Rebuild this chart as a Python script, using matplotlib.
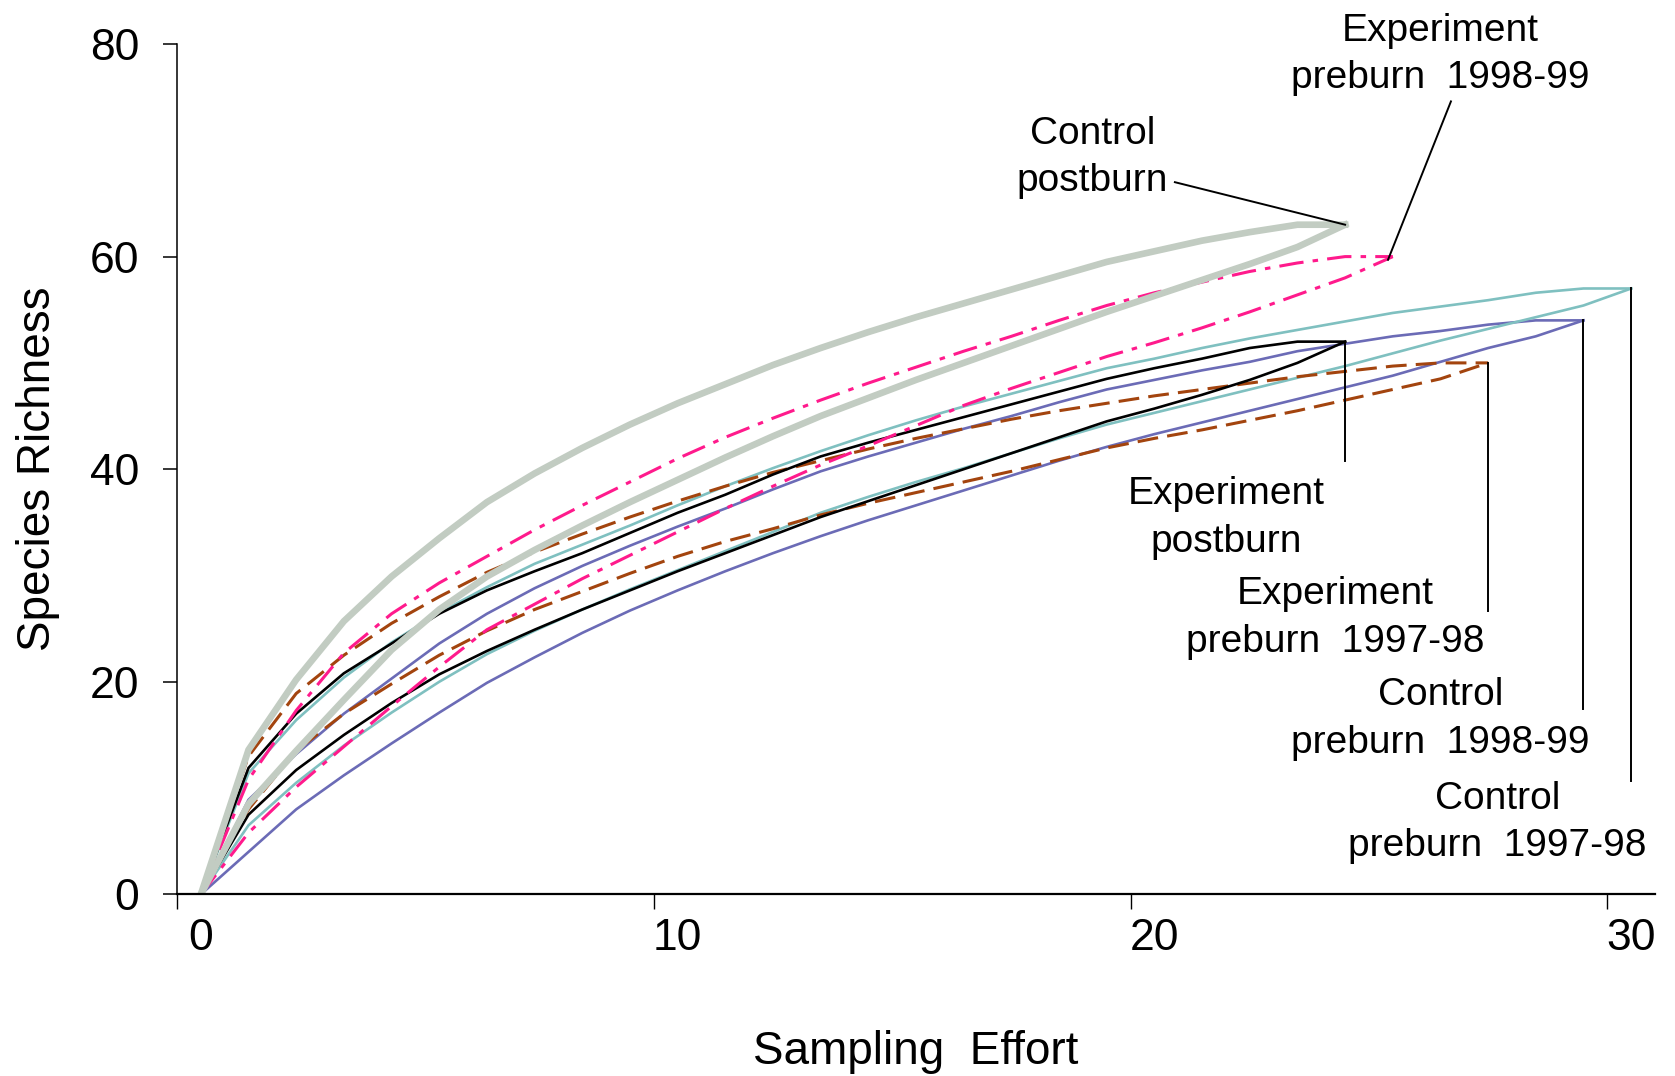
import matplotlib
matplotlib.use("Agg")
import matplotlib.pyplot as plt

plt.rcParams["font.family"] = ["Liberation Sans", "DejaVu Sans"]

# ---- species accumulation data (species richness per sampling effort step) ----
ctrl_post_upper = [0, 13.6, 20.2, 25.7, 29.9, 33.5, 36.9, 39.6, 42.0, 44.2, 46.2, 48.0, 49.8,
                   51.4, 52.9, 54.3, 55.6, 56.9, 58.2, 59.5, 60.5, 61.5, 62.3, 63.0, 63.0]
ctrl_post_lower = [0, 8.5, 13.5, 18.3, 23.0, 26.8, 29.9, 32.4, 34.7, 36.9, 39.0, 41.1, 43.1,
                   45.0, 46.7, 48.4, 50.0, 51.6, 53.2, 54.8, 56.3, 57.8, 59.3, 60.9, 63.0]

exp_pre98_upper = [0, 10.8, 17.3, 22.7, 26.4, 29.3, 31.8, 34.3, 36.6, 38.8, 41.0, 43.0, 44.8,
                   46.5, 48.1, 49.6, 51.1, 52.5, 54.0, 55.4, 56.6, 57.6, 58.6, 59.4, 60.0, 60.0]
exp_pre98_lower = [0, 5.8, 10.1, 13.9, 17.7, 21.4, 24.9, 27.3, 29.7, 31.9, 34.1, 36.3, 38.4,
                   40.4, 42.2, 44.1, 46.0, 47.6, 49.1, 50.6, 51.9, 53.3, 54.8, 56.4, 58.0, 60.0]

ctrl_pre97_upper = [0, 11.4, 16.4, 20.4, 23.7, 26.5, 28.9, 31.1, 32.9, 34.7, 36.6, 38.4, 40.1,
                    41.7, 43.2, 44.6, 45.9, 47.1, 48.3, 49.5, 50.4, 51.4, 52.3, 53.1, 53.9,
                    54.7, 55.3, 55.9, 56.6, 57.0, 57.0]
ctrl_pre97_lower = [0, 6.5, 10.5, 14.0, 17.1, 20.0, 22.6, 24.8, 26.8, 28.7, 30.5, 32.3, 34.1,
                    35.9, 37.4, 38.8, 40.1, 41.5, 42.9, 44.2, 45.3, 46.4, 47.5, 48.6, 49.7,
                    50.9, 52.1, 53.2, 54.3, 55.4, 57.0]

ctrl_pre98_upper = [0, 8.9, 13.2, 17.0, 20.3, 23.6, 26.4, 28.8, 30.9, 32.8, 34.6, 36.3, 38.1,
                    39.8, 41.2, 42.5, 43.8, 45.0, 46.3, 47.5, 48.4, 49.3, 50.1, 51.1, 51.8,
                    52.5, 53.0, 53.6, 54.0, 54.0]
ctrl_pre98_lower = [0, 4.0, 8.0, 11.2, 14.2, 17.1, 19.9, 22.3, 24.6, 26.7, 28.6, 30.4, 32.1,
                    33.7, 35.2, 36.6, 38.0, 39.4, 40.8, 42.1, 43.3, 44.4, 45.5, 46.6, 47.7,
                    48.8, 50.1, 51.4, 52.5, 54.0]

exp_post_upper = [0, 11.9, 17.0, 20.8, 23.6, 26.4, 28.6, 30.4, 32.1, 34.0, 35.9, 37.6, 39.5,
                  41.2, 42.5, 43.7, 44.9, 46.1, 47.3, 48.5, 49.5, 50.4, 51.4, 52.0, 52.0]
exp_post_lower = [0, 7.5, 11.7, 15.0, 18.0, 20.7, 22.9, 24.9, 26.8, 28.6, 30.4, 32.1, 33.8,
                  35.5, 37.0, 38.5, 40.0, 41.5, 43.0, 44.5, 45.7, 47.0, 48.4, 50.0, 52.0]

exp_pre97_upper = [0, 13.0, 18.9, 22.5, 25.5, 28.0, 30.3, 32.2, 33.9, 35.5, 37.0, 38.4, 39.7,
                   40.8, 41.9, 42.9, 43.8, 44.7, 45.5, 46.2, 46.9, 47.5, 48.1, 48.7, 49.2,
                   49.7, 50.0, 50.0]
exp_pre97_lower = [0, 8.0, 13.5, 17.0, 19.8, 22.5, 24.8, 26.8, 28.5, 30.2, 31.8, 33.2, 34.4,
                   35.7, 36.8, 37.8, 38.8, 39.8, 40.9, 42.0, 42.9, 43.7, 44.6, 45.5, 46.5,
                   47.5, 48.5, 50.0]

x_tick_values = [0, 10, 20, 30]
x_tick_labels = ["0", "10", "20", "30"]
y_tick_values = [0, 20, 40, 60, 80]

# ---- styles ----
GREY = "#c2ccc2"
PINK = "#ff1a8c"
TEAL = "#7fc0c0"
PURPLE = "#6b6bb6"
BROWN = "#a3440e"

fig = plt.figure(figsize=(16.75, 10.76), dpi=100)
ax = fig.add_axes([0.10567, 0.16877, 0.88239, 0.79034])


def draw(values, **kw):
    ax.plot(range(len(values)), values, solid_joinstyle="miter", **kw)


brown_kw = dict(color=BROWN, lw=2.2, dashes=(6.8, 3.0))
pink_kw = dict(color=PINK, lw=2.2, dashes=(8.0, 3.0, 1.8, 3.0))
teal_kw = dict(color=TEAL, lw=1.9)
purple_kw = dict(color=PURPLE, lw=1.9)
black_kw = dict(color="black", lw=1.9)
grey_kw = dict(color=GREY, lw=4.8)

draw(ctrl_pre98_lower, **purple_kw)
draw(ctrl_pre98_upper, **purple_kw)
draw(ctrl_pre97_lower, **teal_kw)
draw(ctrl_pre97_upper, **teal_kw)
draw(exp_pre97_lower, **brown_kw)
draw(exp_pre97_upper, **brown_kw)
draw(exp_post_lower, **black_kw)
draw(exp_post_upper, **black_kw)
draw(exp_pre98_lower, **pink_kw)
draw(exp_pre98_upper, **pink_kw)
draw(ctrl_post_lower, **grey_kw)
draw(ctrl_post_upper, **grey_kw)

# ---- axes ----
ax.set_xlim(-0.5, 30.5)
ax.set_ylim(0, 80)
for side in ("top", "right"):
    ax.spines[side].set_visible(False)
ax.spines["left"].set_linewidth(1.1)
ax.spines["bottom"].set_linewidth(1.6)

ax.set_yticks(y_tick_values)
ax.set_yticklabels([str(v) for v in y_tick_values])
ax.tick_params(axis="y", direction="out", length=10, width=1.1, pad=17, labelsize=32)

# category-style axis: tick marks between categories, labels on categories
ax.set_xticks([-0.5, 9.5, 19.5, 29.5])
ax.set_xticklabels([])
ax.set_xticks(x_tick_values, minor=True)
ax.set_xticklabels(x_tick_labels, minor=True)
ax.tick_params(axis="x", which="major", direction="out", length=11, width=1.0)
ax.tick_params(axis="x", which="minor", length=0, pad=17, labelsize=32)

ax.set_xlabel("Sampling  Effort", fontsize=33, va="center")
ax.xaxis.set_label_coords(0.5, -0.1857)
ax.set_ylabel("Species Richness", fontsize=33, va="center")
ax.yaxis.set_label_coords(-0.094, 0.5)

# ---- labels with leader lines ----
lbl = dict(ha="center", va="center", fontsize=28, linespacing=1.4)
ax.text(26.0, 79.0, "Experiment\npreburn  1998-99", **lbl)
ax.text(18.7, 69.3, "Control\npostburn", **lbl)
ax.text(21.5, 35.4, "Experiment\npostburn", **lbl)
ax.text(23.8, 26.0, "Experiment\npreburn  1997-98", **lbl)
ax.text(26.0, 16.5, "Control\npreburn  1998-99", **lbl)
ax.text(27.2, 6.8, "Control\npreburn  1997-98", **lbl)

lead = dict(color="black", lw=1.4, clip_on=False)
ax.plot([20.43, 24.0], [67.0, 63.0], **lead)
ax.plot([26.22, 24.9], [74.6, 59.7], **lead)
ax.plot([24.0, 24.0], [52.0, 40.8], **lead)
ax.plot([27.0, 27.0], [50.0, 26.7], **lead)
ax.plot([29.0, 29.0], [54.0, 17.4], **lead)
ax.plot([30.0, 30.0], [57.0, 10.7], **lead)

fig.savefig("out.png", dpi=100)
